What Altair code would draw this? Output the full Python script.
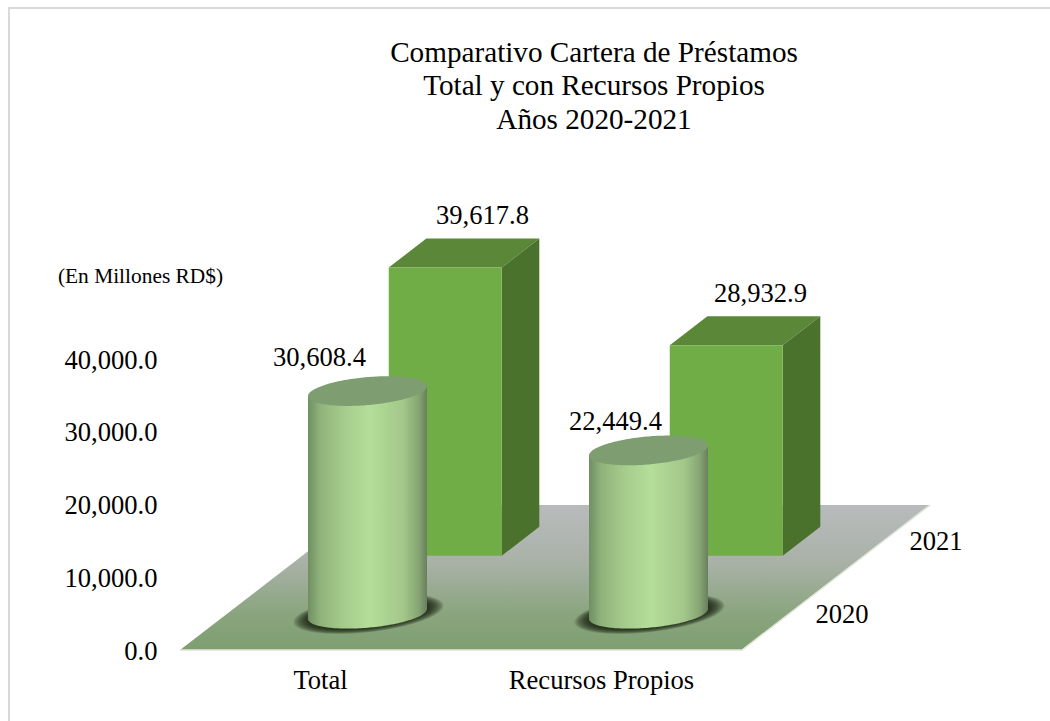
import math

import altair as alt
import pandas as pd

# Values of the loan portfolio, in millions of RD$
categories = ["Total", "Recursos Propios"]
years = ["2020", "2021"]
values_2020 = [30608.4, 22449.4]
values_2021 = [39617.8, 28932.9]
axis_ticks = [0, 10000, 20000, 30000, 40000]

title_lines = [
    "Comparativo Cartera de Préstamos",
    "Total y con Recursos Propios",
    "Años 2020-2021",
]

# Page size and oblique projection of the floor plane
W, H = 1050, 721
FLOOR_Y = 650.0
PX_PER_UNIT = 72.75 / 10000
FLOOR_X0, FLOOR_W = 180.0, 562.0
DEPTH_X, DEPTH_Y = 188.0, 145.0

CENTER_U = [0.25, 0.75]
CENTER_D = [0.25, 0.75]
BOX_SHIFT_U = 0.0045
BOX_HALF_U, BOX_HALF_D = 0.1005, 0.1
CYL_R, CYL_B, CYL_SHEAR = 59.5, 14.0, 0.084
FONT = "Liberation Serif"
TEXT_SIZE = 26.6

X_SCALE = alt.Scale(domain=[0, W], range=[0, W], nice=False, zero=False)
Y_SCALE = alt.Scale(
    domain=[(FLOOR_Y - H) / PX_PER_UNIT, FLOOR_Y / PX_PER_UNIT],
    range=[H, 0], nice=False, zero=False,
)
# Value axis, drawn inside the plot area just left of the floor
Y_AXIS = alt.Axis(
    values=axis_ticks, format=",.1f", offset=-159, domain=False, ticks=False,
    grid=False, labelFont=FONT, labelFontSize=TEXT_SIZE, labelColor="#000000",
    labelPadding=2, labelOverlap=False, labelOffset=1,
    title="(En Millones RD$)", titleFont=FONT, titleFontSize=21.4,
    titleFontWeight="normal", titleColor="#000000", titleAngle=0,
    titleAlign="center", titleBaseline="middle", titleX=-19, titleY=276,
)


def up(px):
    """Screen pixels upward, expressed in value units."""
    return px / PX_PER_UNIT


def project(u, d, value=0.0):
    """Floor coordinates (u, d) plus a height to x and y-axis value."""
    return FLOOR_X0 + u * FLOOR_W + d * DEPTH_X, value + up(d * DEPTH_Y)


def ex():
    return alt.X("x:Q", scale=X_SCALE, axis=None)


def ey():
    return alt.Y("y:Q", scale=Y_SCALE, axis=Y_AXIS, stack=None)


def polygon_h(rows, fill):
    """Shape with horizontal top and bottom edges."""
    return alt.Chart(pd.DataFrame(rows, columns=["y", "x", "x2"])).mark_area(
        orient="horizontal", color=fill
    ).encode(y=ey(), x=ex(), x2="x2:Q")


def polygon_v(rows, fill, **mark):
    """Shape with vertical left and right edges."""
    return alt.Chart(pd.DataFrame(rows, columns=["x", "y", "y2"])).mark_area(
        orient="vertical", color=fill, **mark
    ).encode(x=ex(), y=ey(), y2="y2:Q")


def box(u, d, value):
    left, right = u - BOX_HALF_U, u + BOX_HALF_U
    front, back = d - BOX_HALF_D, d + BOX_HALF_D
    x0, y0 = project(left, front)
    x1, y1 = project(right, front, value)
    x2, y2 = project(right, back, value)
    xb, yb = project(right, back)
    xl, _ = project(left, back)
    top = polygon_h([[y2, xl, x2], [y1, x0, x1]], "#5b8739")
    side = polygon_v([[x1, y1, y0], [x2, y2, yb]], "#4a722d")
    face = alt.Chart(pd.DataFrame([{"x": x0, "x2": x1, "y": y0, "y2": y1}])).mark_rect(
        color="#70ad47"
    ).encode(x=ex(), x2="x2:Q", y=ey(), y2="y2:Q")
    return [top, side, face]


def ellipse_rows(xc, yc, a, b, shear, n=90):
    """Tilted ellipse outline as x with an upper and a lower edge."""
    rows = []
    for i in range(n + 1):
        t = math.pi - math.pi * i / n
        dx = a * math.cos(t)
        mid = yc + up(shear * dx)
        half = up(b * math.sin(t))
        rows.append([xc + dx, mid + half, mid - half])
    return rows


def cylinder_body(u, d, value):
    xc, base = project(u, d)
    rows = []
    for x, hi, lo in ellipse_rows(xc, base, CYL_R, CYL_B, CYL_SHEAR):
        rows.append([x, (hi + lo) / 2 + value, lo])
    body_fill = alt.Gradient(
        gradient="linear", x1=0, x2=1, y1=0, y2=0,
        stops=[
            alt.GradientStop(offset=0.0, color="#6f8f62"),
            alt.GradientStop(offset=0.1, color="#8fb27a"),
            alt.GradientStop(offset=0.3, color="#a6cc8c"),
            alt.GradientStop(offset=0.52, color="#b4de99"),
            alt.GradientStop(offset=0.8, color="#a3c78a"),
            alt.GradientStop(offset=0.93, color="#86a573"),
            alt.GradientStop(offset=1.0, color="#687f5e"),
        ],
    )
    lid = ellipse_rows(xc, base + value, CYL_R, CYL_B, CYL_SHEAR)
    return [polygon_v(rows, body_fill), polygon_v(lid, "#7e9d70")]


def shadow(u, d, steps=13):
    """Soft contact shadow built from stacked translucent ellipses."""
    xc, base = project(u, d)
    parts = []
    for i in range(steps):
        f = i / (steps - 1)
        a = 75 - 15 * f
        b = 18.5 - 4.5 * f
        rows = ellipse_rows(xc + 1, base, a, b, CYL_SHEAR * 1.3)
        parts.append(polygon_v(rows, "#16200f", opacity=0.12))
    return parts


def label(rows, **mark):
    """Text marks positioned by the shared scales."""
    return alt.Chart(pd.DataFrame(rows, columns=["x", "y", "t"])).mark_text(
        font=FONT, fontSize=TEXT_SIZE, color="#000000", baseline="middle", **mark
    ).encode(x=ex(), y=ey(), text="t:N")


# Floor plane with its pale front and right edges
fl_x, fl_y = project(0, 0)
fr_x, _ = project(1, 0)
bl_x, bl_y = project(0, 1)
br_x, _ = project(1, 1)
floor_fill = alt.Gradient(
    gradient="linear", x1=0, x2=0, y1=0, y2=1,
    stops=[
        alt.GradientStop(offset=0.0, color="#b8bbbc"),
        alt.GradientStop(offset=0.4, color="#a9b1a7"),
        alt.GradientStop(offset=0.75, color="#8aa57e"),
        alt.GradientStop(offset=1.0, color="#7e9e70"),
    ],
)
floor = polygon_h([[bl_y, bl_x, br_x], [fl_y, fl_x, fr_x]], floor_fill)
floor_edge = alt.Chart(
    pd.DataFrame({"x": [fl_x, fr_x, br_x], "y": [fl_y, fl_y, bl_y], "o": [0, 1, 2]})
).mark_line(color="#dfe6da", strokeWidth=1.5).encode(x=ex(), y=ey(), order="o:Q")

# Thin frame along the top and left of the page
frame_top = alt.Chart().mark_rule(color="#d9d9d9", strokeWidth=2).encode(
    x=alt.value(8), x2=alt.value(W), y=alt.value(8)
)
frame_left = alt.Chart().mark_rule(color="#d9d9d9", strokeWidth=2).encode(
    x=alt.value(9), y=alt.value(7), y2=alt.value(H)
)

layers = [frame_top, frame_left, floor, floor_edge]

# Back row: boxes for 2021
for u, v in zip(CENTER_U, values_2021):
    layers += box(u + BOX_SHIFT_U, CENTER_D[1], v)

# Front row: cylinders for 2020
for u, v in zip(CENTER_U, values_2020):
    layers += shadow(u, CENTER_D[0])
    layers += cylinder_body(u, CENTER_D[0], v)

# Value labels, nudged off the top of each shape
label_rows = []
for u, v, nudge in zip(CENTER_U, values_2021, [(21, 37), (18, 37)]):
    x, y = project(u, CENTER_D[1], v)
    label_rows.append([x + nudge[0], y + up(nudge[1]), f"{v:,.1f}"])
for u, v, nudge in zip(CENTER_U, values_2020, [(-48, 33), (-33, 28)]):
    x, y = project(u, CENTER_D[0], v)
    label_rows.append([x + nudge[0], y + up(nudge[1]), f"{v:,.1f}"])

# Category names under the front edge, year names beside the right edge
for u, name in zip(CENTER_U, categories):
    x, y = project(u, 0)
    label_rows.append([x, y - up(31), name])
for d, name in zip(CENTER_D, years):
    x, y = project(1, d)
    label_rows.append([x + 53, y - up(1), name])

layers.append(label(label_rows, align="center"))

chart = (
    alt.layer(*layers)
    .properties(
        width=W,
        height=H,
        padding=0,
        background="#ffffff",
        autosize=alt.AutoSizeParams(type="none", contains="padding"),
        title=alt.TitleParams(
            text=title_lines, anchor="middle", frame="group", dx=69, dy=135, offset=0,
            baseline="top", font=FONT, fontSize=29.2, fontWeight="normal",
            color="#000000", lineHeight=33.5,
        ),
    )
    .resolve_scale(x="shared", y="shared")
    .configure_view(stroke=None)
)

chart.save("out.html", embed_options={"renderer": "svg", "actions": False})
